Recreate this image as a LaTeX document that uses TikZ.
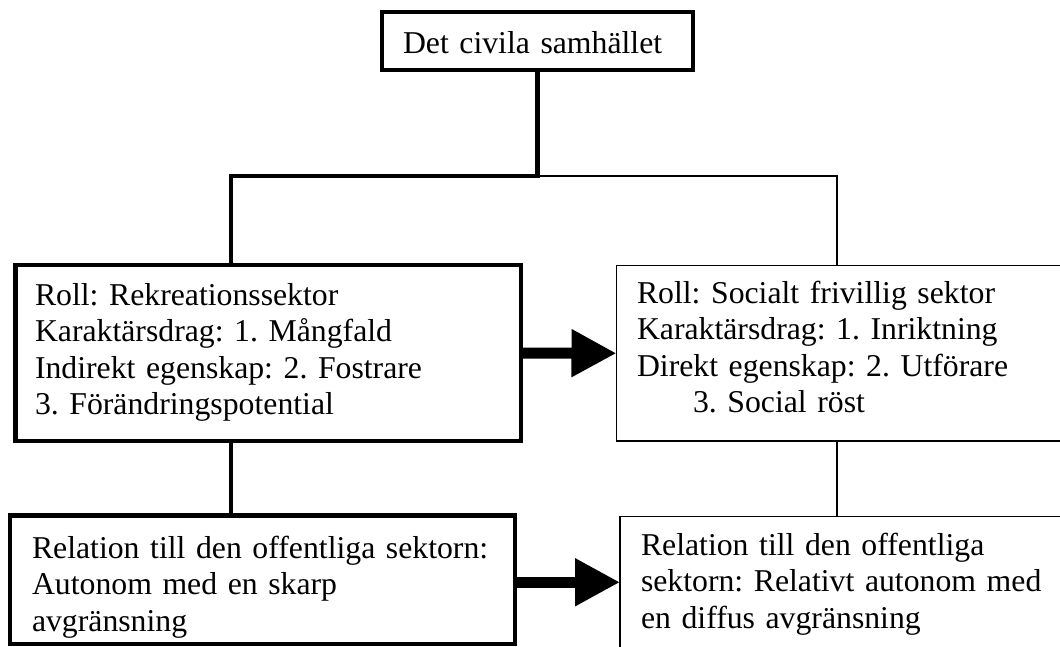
\documentclass[tikz,border=0pt]{standalone}
\usepackage{fontspec}
\setmainfont{Liberation Serif}
\usetikzlibrary{arrows.meta}
\begin{document}
\begin{tikzpicture}[x=1pt, y=-1pt,
    box/.style={draw, anchor=north west, align=left, inner ysep=0pt, outer sep=0pt,
        font=\fontsize{31.75pt}{36.5pt}\selectfont\frenchspacing},
    boldbox/.style={box, line width=4.5pt},
    thinbox/.style={box, line width=1.5pt},
    boldline/.style={line width=4.5pt},
    thinline/.style={line width=1.5pt},
    bigarrow/.style={line width=11pt, -{Triangle[length=45pt, width=45pt]}}]
    \useasboundingbox (0,0) rectangle (1060,646);
    % boxes
    \node[boldbox, inner xsep=21pt, text width=269pt, text height=41pt, text depth=17pt]
        (civil) at (382,12) {Det civila samhället};
    \node[boldbox, inner xsep=19.5pt, text width=466.5pt, text height=40pt, text depth=136pt]
        (rec) at (15.5,265) {Roll: Rekreationssektor\\
        Karaktärsdrag: 1. Mångfald\\
        Indirekt egenskap: 2. Fostrare\\
        3. Förändringspotential};
    \node[thinbox, inner xsep=20.5pt, text width=460pt, text height=37.5pt, text depth=138pt]
        (soc) at (616.5,265.5) {Roll: Socialt frivillig sektor\\
        Karaktärsdrag: 1. Inriktning\\
        Direkt egenskap: 2. Utförare\\
        \hspace*{56pt}3. Social röst};
    \node[boldbox, inner xsep=22pt, text width=461pt, text height=42.5pt, text depth=86pt]
        (relA) at (10,515.5) {Relation till den offentliga sektorn:\\
        Autonom med en skarp\\
        avgränsning};
    \node[thinbox, inner xsep=21pt, text width=440pt, text height=38.5pt, text depth=93pt]
        (relB) at (620,516.5) {Relation till den offentliga\\
        sektorn: Relativt autonom med\\
        en diffus avgränsning};
    % connectors
    \coordinate (forkL) at (231,176);
    \coordinate (forkR) at (837,176);
    \draw[thinline] (civil.south |- forkR) -- (forkR) -- (forkR |- soc.north);
    \draw[boldline] (civil.south) |- (forkL) -- (forkL |- rec.north);
    \draw[boldline] (forkL |- rec.south) -- (forkL |- relA.north);
    \draw[thinline] (forkR |- soc.south) -- (forkR |- relB.north);
    \draw[bigarrow] (rec.east) -- (soc.west);
    \draw[bigarrow] (relB.west -| relA.east) -- (relB.west);
\end{tikzpicture}
\end{document}
